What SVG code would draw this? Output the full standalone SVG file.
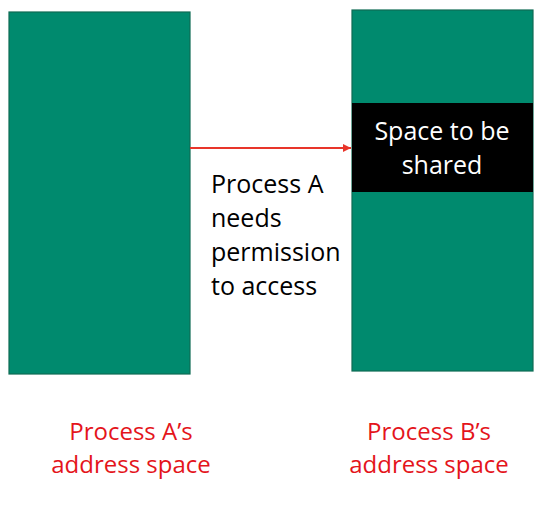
<svg xmlns="http://www.w3.org/2000/svg" width="545" height="509" viewBox="0 0 545 509">
<defs>
<style>
.space{fill:#008a6e;stroke:#0e6b54;stroke-width:1.2}
.t{font-family:"Open Sans","Liberation Sans",sans-serif;font-size:25px}
.lbl{fill:#e4141b;text-anchor:middle;font-size:24px}
</style>
<marker id="ah" viewBox="0 0 10 10" refX="10" refY="5" markerWidth="9" markerHeight="8" markerUnits="userSpaceOnUse" orient="auto"><path d="M0,0 L10,5 L0,10 z" fill="#e8352a"/></marker>
</defs>
<rect width="545" height="509" fill="#ffffff"/>
<g id="processA">
<rect class="space" x="9" y="12" width="181" height="362"/>
<text class="t lbl" x="131" y="440">Process A’s</text>
<text class="t lbl" x="131" y="473">address space</text>
</g>
<g id="processB">
<rect class="space" x="352" y="10" width="181" height="361"/>
<text class="t lbl" x="429" y="440">Process B’s</text>
<text class="t lbl" x="429" y="473">address space</text>
</g>
<g id="shared">
<rect x="352" y="103" width="181" height="89" fill="#000000"/>
<text class="t" x="442" y="140" fill="#ffffff" text-anchor="middle">Space to be</text>
<text class="t" x="442" y="174" fill="#ffffff" text-anchor="middle">shared</text>
</g>
<g id="connectors">
<line x1="190" y1="148" x2="351" y2="148" stroke="#e8352a" stroke-width="2" marker-end="url(#ah)"/>
<text class="t" fill="#000000"><tspan x="211" y="193">Process A</tspan><tspan x="211" y="227">needs</tspan><tspan x="211" y="261">permission</tspan><tspan x="211" y="295">to access</tspan></text>
</g>
</svg>
